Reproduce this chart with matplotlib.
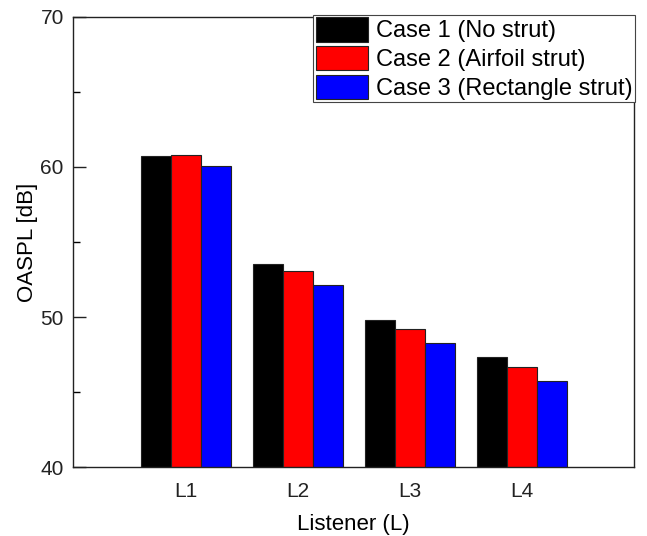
import matplotlib
matplotlib.use("Agg")
import matplotlib.pyplot as plt
import numpy as np
from matplotlib.ticker import MultipleLocator

plt.rcParams["font.family"] = ["Liberation Sans", "DejaVu Sans"]

listeners = ["L1", "L2", "L3", "L4"]
case_labels = ["Case 1 (No strut)", "Case 2 (Airfoil strut)", "Case 3 (Rectangle strut)"]
case_colors = ["#000000", "#ff0000", "#0000ff"]
case1 = [60.75, 53.55, 49.82, 47.33]
case2 = [60.78, 53.05, 49.20, 46.69]
case3 = [60.07, 52.13, 48.25, 45.73]

fig = plt.figure(figsize=(6.47, 5.36), dpi=100)
ax = fig.add_axes([0.1136, 0.1287, 0.9800 - 0.1136, 0.9683 - 0.1287])

x = np.arange(1, len(listeners) + 1)
width = 0.267
for i, (vals, lab, col) in enumerate(zip([case1, case2, case3], case_labels, case_colors)):
    ax.bar(x + (i - 1) * width, vals, width, color=col, edgecolor="#222222",
           linewidth=0.8, label=lab)

ax.set_xlim(0, 5)
ax.set_ylim(40, 70)
ax.set_xticks(x)
ax.set_xticklabels(listeners)
ax.yaxis.set_major_locator(MultipleLocator(10))
ax.yaxis.set_minor_locator(MultipleLocator(5))
ax.tick_params(axis="y", which="major", direction="in", length=9, width=1,
               labelsize=15, colors="#222222", pad=7)
ax.tick_params(axis="y", which="minor", direction="in", length=5, width=1)
ax.tick_params(axis="x", length=0, labelsize=15, colors="#222222", pad=11)
for s in ax.spines.values():
    s.set_linewidth(1.0)
    s.set_color("#222222")

ax.set_xlabel("Listener (L)", fontsize=16, labelpad=9)
ax.set_ylabel("OASPL [dB]", fontsize=16, labelpad=2)

leg = ax.legend(loc="upper right", bbox_to_anchor=(0.9815, 0.972),
                bbox_transform=fig.transFigure, borderaxespad=0,
                fontsize=17, frameon=True, fancybox=False, framealpha=1,
                edgecolor="#444444", borderpad=0.1, handlelength=2.2,
                handleheight=1.2, labelspacing=0.15, handletextpad=0.35)
leg.get_frame().set_linewidth(0.8)

fig.savefig("out.png", dpi=100)
